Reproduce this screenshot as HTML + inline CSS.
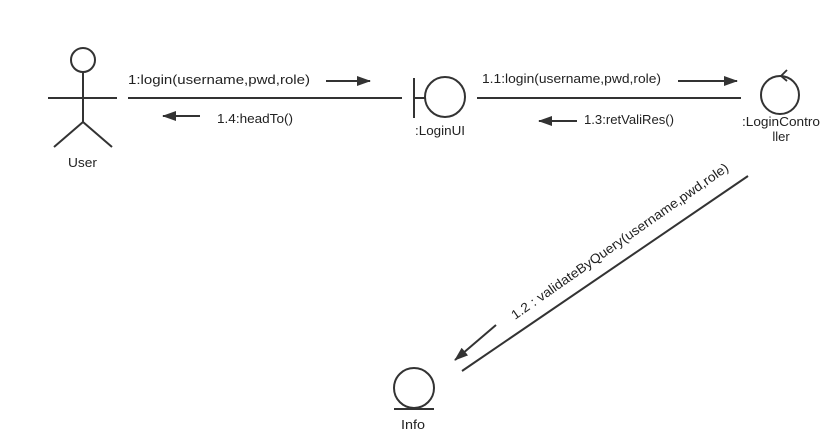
<!DOCTYPE html>
<html><head><style>body{margin:0;background:#fff}svg{display:block}</style></head><body>
<svg width="834" height="442" viewBox="0 0 834 442" xmlns="http://www.w3.org/2000/svg" font-family="Liberation Sans, sans-serif" font-size="13" fill="#222">
<defs><marker id="b" markerWidth="14" markerHeight="10" refX="13" refY="5" orient="auto" markerUnits="userSpaceOnUse"><path d="M0,0 L14,5 L0,10 z" fill="#333"/></marker></defs>
<g stroke="#333" stroke-width="2" fill="none">
<circle cx="83" cy="60" r="12"/>
<line x1="83" y1="72" x2="83" y2="122"/>
<line x1="48" y1="98" x2="117" y2="98"/>
<line x1="83" y1="122" x2="54" y2="147"/>
<line x1="83" y1="122" x2="112" y2="147"/>
<line x1="128" y1="98" x2="402" y2="98"/>
<line x1="414" y1="78" x2="414" y2="118"/>
<line x1="414" y1="98" x2="425" y2="98"/>
<circle cx="445" cy="97" r="20"/>
<line x1="477" y1="98" x2="741" y2="98"/>
<circle cx="780" cy="95" r="19"/>
<path d="M787,70 L781,76 L787,81" stroke-width="1.8"/>
<line x1="748" y1="176" x2="462" y2="371"/>
<circle cx="414" cy="388" r="20"/>
<line x1="394" y1="409" x2="434" y2="409"/>
<line x1="326" y1="81" x2="370" y2="81" marker-end="url(#b)"/>
<line x1="200" y1="116" x2="163" y2="116" marker-end="url(#b)"/>
<line x1="678" y1="81" x2="737" y2="81" marker-end="url(#b)"/>
<line x1="577" y1="121" x2="539" y2="121" marker-end="url(#b)"/>
<line x1="496" y1="325" x2="455" y2="360" marker-end="url(#b)"/>
</g>
<g stroke="none">
<text x="128" y="84" textLength="182" lengthAdjust="spacingAndGlyphs">1:login(username,pwd,role)</text>
<text x="217" y="123" textLength="76" lengthAdjust="spacingAndGlyphs">1.4:headTo()</text>
<text x="482" y="83" textLength="179" lengthAdjust="spacingAndGlyphs">1.1:login(username,pwd,role)</text>
<text x="584" y="124" textLength="90" lengthAdjust="spacingAndGlyphs">1.3:retValiRes()</text>
<text x="415" y="135" textLength="50" lengthAdjust="spacingAndGlyphs">:LoginUI</text>
<text x="742" y="126" textLength="78" lengthAdjust="spacingAndGlyphs">:LoginContro</text>
<text x="781" y="141" text-anchor="middle">ller</text>
<text x="68" y="167" textLength="29" lengthAdjust="spacingAndGlyphs">User</text>
<text x="401" y="429" textLength="24" lengthAdjust="spacingAndGlyphs">Info</text>
<text x="0" y="0" transform="translate(515,320) rotate(-35)" textLength="262" lengthAdjust="spacingAndGlyphs">1.2 : validateByQuery(username,pwd,role)</text>
</g>
</svg>
</body></html>
